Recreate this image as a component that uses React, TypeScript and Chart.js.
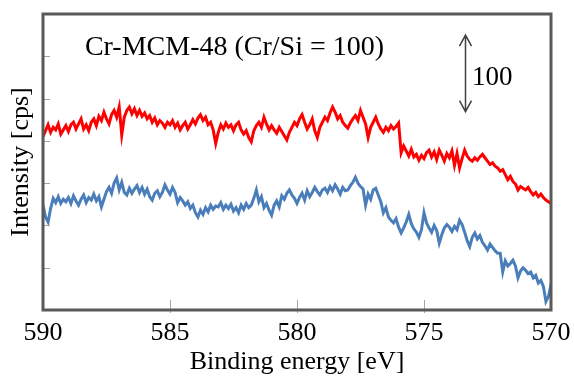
import React, { useEffect, useRef } from 'react';
import { Chart, registerables } from 'chart.js';

Chart.register(...registerables);

// Sampling grid of the spectra (binding energy, eV)
const startEnergy = 590;
const energyStep = 0.1;

// Series: Cr-MCM-48 (Cr/Si = 100), two spectra (cps, arbitrary offset)
const redCounts = [
  205, 212, 219, 210, 216, 213, 220, 208, 213, 218,
  211, 219, 222, 214, 220, 226, 214, 219, 212, 222,
  226, 218, 229, 224, 234, 226, 220, 231, 236, 228,
  240, 207, 228, 236, 240, 232, 238, 230, 236, 229,
  233, 226, 230, 222, 227, 219, 224, 221, 216, 222,
  219, 224, 216, 221, 213, 218, 222, 214, 219, 225,
  220, 227, 231, 224, 228, 219, 222, 213, 197, 210,
  219, 214, 221, 216, 219, 212, 219, 222, 213, 208,
  212, 204, 199, 212, 218, 222, 216, 228, 220, 213,
  218, 213, 209, 216, 211, 206, 201, 210, 216, 222,
  218, 226, 231, 222, 214, 219, 226, 212, 204, 216,
  222, 228, 224, 233, 240, 234, 226, 230, 222, 218,
  215, 221, 226, 230, 224, 236, 228, 220, 204, 216,
  222, 228, 220, 214, 210, 216, 212, 218, 214, 217,
  221, 186, 194, 188, 182, 190, 181, 184, 177, 183,
  179, 186, 189, 181, 187, 178, 189, 183, 176, 185,
  180, 188, 171, 185, 168, 179, 189, 182, 178, 176,
  180, 177, 181, 184, 180, 176, 172, 174, 170, 168,
  164, 166, 160, 154, 158, 152, 149, 142, 146, 144,
  142, 145, 140, 136, 139, 134, 137, 133, 130, 128,
  126,
];

const blueCounts = [
  124, 110, 104, 120, 132, 127, 134, 126, 131, 128,
  133, 126, 135, 129, 124, 131, 136, 127, 133, 130,
  137, 129, 134, 122, 131, 140, 145, 138, 150, 156,
  142, 151, 139, 136, 144, 138, 143, 147, 139, 145,
  137, 143, 134, 130, 138, 141, 134, 139, 148, 142,
  137, 145, 139, 127, 133, 129, 124, 128, 120, 124,
  115, 110, 118, 113, 121, 116, 124, 119, 123, 122,
  127, 119, 124, 120, 125, 117, 121, 115, 124, 119,
  126, 121, 124, 132, 142, 128, 134, 121, 126, 118,
  112, 124, 129, 122, 135, 131, 138, 142, 136, 132,
  126, 133, 138, 130, 141, 134, 139, 145, 140, 136,
  142, 144, 139, 146, 141, 148, 143, 137, 145, 141,
  142, 147, 151, 157, 150, 146, 143, 124, 137, 131,
  142, 144, 136, 128, 115, 121, 110, 106, 103, 108,
  98, 91, 97, 104, 113, 102, 96, 92, 86, 95,
  115, 103, 97, 92, 100, 94, 79, 89, 97, 101,
  98, 93, 99, 95, 106, 101, 92, 82, 75, 86,
  91, 84, 88, 80, 76, 71, 78, 74, 70, 67,
  67, 45, 58, 52, 55, 59, 52, 38, 46, 50,
  47, 43, 45, 38, 41, 32, 35, 28, 10, 16,
  30,
];

const xTitle = 'Binding energy [eV]';
const yTitle = 'Intensity [cps]';
const sampleLabel = 'Cr-MCM-48 (Cr/Si = 100)';
const scaleBarLabel = '100';

const FONT = "'Liberation Serif', 'Times New Roman', serif";

const toPoints = (vals: number[]) =>
  vals.map((v, i) => ({ x: +(startEnergy - i * energyStep).toFixed(2), y: v }));

const decorPlugin = {
  id: 'decor',
  afterDatasetsDraw(chart: any) {
    const { ctx, chartArea: a, scales } = chart;
    const xs = scales.x;
    const ys = scales.y;
    ctx.save();
    // inner tick marks
    ctx.strokeStyle = '#a6a6a6';
    ctx.lineWidth = 1;
    ys.ticks.forEach((t: any) => {
      if (t.value <= ys.min || t.value >= ys.max) return;
      const y = Math.round(ys.getPixelForValue(t.value)) + 0.5;
      ctx.beginPath();
      ctx.moveTo(a.left, y);
      ctx.lineTo(a.left + 7, y);
      ctx.stroke();
    });
    xs.ticks.forEach((t: any) => {
      if (t.value <= xs.min || t.value >= xs.max) return;
      const x = Math.round(xs.getPixelForValue(t.value)) + 0.5;
      ctx.beginPath();
      ctx.moveTo(x, a.bottom - 10);
      ctx.lineTo(x, a.bottom + 3);
      ctx.stroke();
    });
    // frame
    ctx.strokeStyle = '#595959';
    ctx.lineWidth = 3;
    ctx.strokeRect(a.left, a.top, a.right - a.left, a.bottom - a.top);

    // sample label
    ctx.fillStyle = '#000';
    ctx.font = `28px ${FONT}`;
    ctx.textAlign = 'left';
    ctx.textBaseline = 'alphabetic';
    ctx.fillText(sampleLabel, xs.getPixelForValue(588.35), ys.getPixelForValue(301.5));

    // scale bar arrow
    const ax = Math.round(xs.getPixelForValue(573.4)) + 0.5;
    const yTop = ys.getPixelForValue(325);
    const yBot = ys.getPixelForValue(234.5);
    ctx.strokeStyle = '#404040';
    ctx.lineWidth = 1.5;
    ctx.beginPath();
    ctx.moveTo(ax, yTop);
    ctx.lineTo(ax, yBot);
    ctx.moveTo(ax - 6, yTop + 11);
    ctx.lineTo(ax, yTop);
    ctx.lineTo(ax + 6, yTop + 11);
    ctx.moveTo(ax - 6, yBot - 11);
    ctx.lineTo(ax, yBot);
    ctx.lineTo(ax + 6, yBot - 11);
    ctx.stroke();
    ctx.font = `27px ${FONT}`;
    ctx.fillText(scaleBarLabel, ax + 6.5, ys.getPixelForValue(266));
    ctx.restore();
  },
};

export default function App() {
  const ref = useRef<HTMLCanvasElement | null>(null);
  useEffect(() => {
    if (!ref.current) return;
    const chart = new Chart(ref.current, {
      type: 'line',
      data: {
        datasets: [
          {
            data: toPoints(redCounts),
            borderColor: '#ff0000',
            borderWidth: 3,
            pointRadius: 0,
            fill: false,
            tension: 0,
          },
          {
            data: toPoints(blueCounts),
            borderColor: '#4a7ebb',
            borderWidth: 3,
            pointRadius: 0,
            fill: false,
            tension: 0,
          },
        ],
      },
      options: {
        animation: false,
        responsive: false,
        devicePixelRatio: 1,
        layout: { padding: { left: 2, right: 23, top: 14, bottom: 0 } },
        plugins: { legend: { display: false }, tooltip: { enabled: false } },
        scales: {
          x: {
            type: 'linear',
            min: 570,
            max: 590,
            reverse: true,
            border: { display: false },
            grid: { display: false, drawTicks: false },
            ticks: {
              stepSize: 5,
              padding: 8.7,
              color: '#000',
              font: { family: FONT, size: 26, lineHeight: 1.1 },
              maxRotation: 0,
            },
            title: {
              display: true,
              text: xTitle,
              color: '#000',
              font: { family: FONT, size: 26, lineHeight: 1.1 },
              padding: { top: 0, bottom: 0 },
            },
            afterFit: (s: any) => {
              s.height = 66;
              s.paddingLeft = 0;
              s.paddingRight = 0;
            },
          },
          y: {
            type: 'linear',
            min: 0,
            max: 350,
            border: { display: false },
            grid: { display: false, drawTicks: false },
            ticks: { stepSize: 50, display: false },
            title: {
              display: true,
              text: yTitle,
              color: '#000',
              font: { family: FONT, size: 26, lineHeight: 1.2 },
              padding: { top: 4, bottom: 5.8 },
            },
            afterFit: (s: any) => {
              s.width = 41;
            },
          },
        },
      },
      plugins: [decorPlugin],
    });
    return () => chart.destroy();
  }, []);
  return (
    <div style={{ position: 'fixed', left: 0, top: 0, width: 574, height: 376, background: '#fff' }}>
      <canvas ref={ref} width={574} height={376} style={{ width: 574, height: 376, display: 'block' }} />
    </div>
  );
}
